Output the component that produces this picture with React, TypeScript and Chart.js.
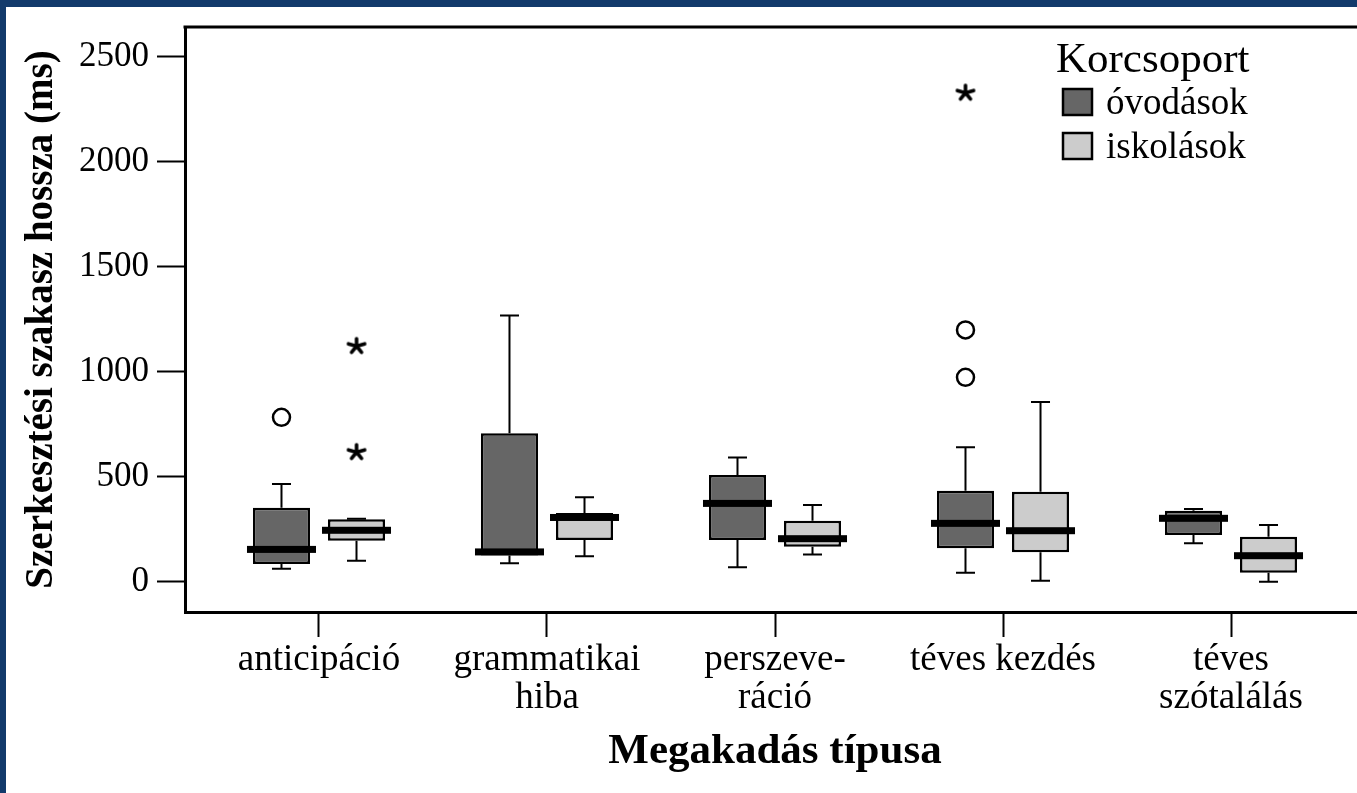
import React, { useEffect, useRef } from 'react';
import { Chart, registerables } from 'chart.js';

Chart.register(...registerables);

// ---------- data ----------
const categories: string[][] = [
  ['anticipáció'],
  ['grammatikai', 'hiba'],
  ['perszeve-', 'ráció'],
  ['téves kezdés'],
  ['téves', 'szótalálás'],
];
const groupNames = ['óvodások', 'iskolások'];
const legendTitle = 'Korcsoport';
const xTitle = 'Megakadás típusa';
const yTitle = 'Szerkesztési szakasz hossza (ms)';
const yTickValues = [0, 500, 1000, 1500, 2000, 2500];

const ovodWhiskerLow = [62, 88, 69, 43, 183];
const ovodQ1 = [84, 125, 199, 159, 222];
const ovodMedian = [154, 142, 373, 278, 302];
const ovodQ3 = [352, 707, 508, 433, 338];
const ovodWhiskerHigh = [465, 1268, 592, 640, 346];
const ovodOutliers: [number, number][] = [[0, 783], [3, 1199], [3, 973]];
const ovodExtremes: [number, number][] = [[3, 2330]];

const iskWhiskerLow = [100, 122, 130, 5, 0];
const iskQ1 = [195, 199, 167, 140, 43];
const iskMedian = [245, 306, 205, 243, 124];
const iskQ3 = [297, 327, 290, 429, 214];
const iskWhiskerHigh = [300, 402, 365, 856, 270];
const iskOutliers: [number, number][] = [];
const iskExtremes: [number, number][] = [[0, 1124], [0, 619]];

// ---------- style / layout ----------
const BLUE = 'rgb(18,58,107)';
const DARK = '#666666';
const LIGHT = '#cccccc';
const SERIF = "'Liberation Serif', 'Times New Roman', serif";
const CATEGORY_PCT = 0.658;
const BAR_PCT = 0.76;
const GROUP_OFFSET = CATEGORY_PCT / 4;
const X_MIN = -0.5877;
const X_MAX = 4.5877;
const Y_MIN = -144;
const Y_MAX = 2641;
const CAP = 19;

const groups = [
  { low: ovodWhiskerLow, q1: ovodQ1, med: ovodMedian, q3: ovodQ3, high: ovodWhiskerHigh, color: DARK },
  { low: iskWhiskerLow, q1: iskQ1, med: iskMedian, q3: iskQ3, high: iskWhiskerHigh, color: LIGHT },
];

function makeStar(): HTMLCanvasElement {
  const c = document.createElement('canvas');
  c.width = 22;
  c.height = 20;
  const ctx = c.getContext('2d')!;
  ctx.strokeStyle = '#000';
  ctx.lineWidth = 3.6;
  ctx.lineCap = 'round';
  const cx = 11, cy = 10.5;
  for (let k = 0; k < 5; k++) {
    const a = -Math.PI / 2 + (k * 2 * Math.PI) / 5;
    ctx.beginPath();
    ctx.moveTo(cx, cy);
    ctx.lineTo(cx + Math.cos(a) * 8.5, cy + Math.sin(a) * 7.5);
    ctx.stroke();
  }
  return c;
}

const boxPlugin = {
  id: 'boxWhiskers',
  afterDatasetsDraw(chart: any) {
    const ctx = chart.ctx;
    const y = chart.scales.y;
    groups.forEach((g, d) => {
      const meta = chart.getDatasetMeta(d);
      meta.data.forEach((el: any, i: number) => {
        const { x, width } = el.getProps(['x', 'width'], true);
        const pHi = y.getPixelForValue(g.high[i]);
        const pQ3 = y.getPixelForValue(g.q3[i]);
        const pQ1 = y.getPixelForValue(g.q1[i]);
        const pLo = y.getPixelForValue(g.low[i]);
        const pMed = y.getPixelForValue(g.med[i]);
        ctx.save();
        ctx.strokeStyle = '#000';
        ctx.lineWidth = 2;
        ctx.beginPath();
        ctx.moveTo(x, pQ3);
        ctx.lineTo(x, pHi);
        ctx.moveTo(x - CAP / 2, pHi);
        ctx.lineTo(x + CAP / 2, pHi);
        ctx.moveTo(x, pQ1);
        ctx.lineTo(x, pLo);
        ctx.moveTo(x - CAP / 2, pLo);
        ctx.lineTo(x + CAP / 2, pLo);
        ctx.stroke();
        ctx.fillStyle = '#000';
        ctx.fillRect(x - width / 2 - 6, pMed - 3.5, width + 12, 7);
        ctx.restore();
      });
    });
  },
};

const framePlugin = {
  id: 'frameTop',
  afterDraw(chart: any) {
    const { left, right, top } = chart.chartArea;
    const ctx = chart.ctx;
    ctx.save();
    ctx.strokeStyle = '#000';
    ctx.lineWidth = 3;
    ctx.beginPath();
    ctx.moveTo(left - 1.5, top);
    ctx.lineTo(right, top);
    ctx.stroke();
    ctx.restore();
  },
};

const legendPlugin = {
  id: 'customLegend',
  afterDraw(chart: any) {
    const ctx = chart.ctx;
    ctx.save();
    ctx.fillStyle = '#000';
    ctx.textBaseline = 'alphabetic';
    ctx.textAlign = 'left';
    ctx.font = `43px ${SERIF}`;
    ctx.fillText(legendTitle, 1050, 65);
    ctx.font = `37px ${SERIF}`;
    groupNames.forEach((name, i) => {
      const top = 82 + i * 44;
      ctx.fillStyle = groups[i].color;
      ctx.fillRect(1057, top, 29, 26);
      ctx.strokeStyle = '#000';
      ctx.lineWidth = 2.5;
      ctx.strokeRect(1057, top, 29, 26);
      ctx.fillStyle = '#000';
      ctx.fillText(name, 1100, top + 24.5);
    });
    ctx.restore();
  },
};

export default function App() {
  const ref = useRef<HTMLCanvasElement>(null);
  useEffect(() => {
    const canvas = ref.current!;
    const star = makeStar();
    const outlierStyle = {
      type: 'scatter' as const,
      pointStyle: 'circle',
      pointRadius: 8.5,
      pointBorderWidth: 2.5,
      pointBorderColor: '#000',
      pointBackgroundColor: 'rgba(255,255,255,0)',
    };
    const extremeStyle = {
      type: 'scatter' as const,
      pointStyle: star,
      pointRadius: 10,
      pointBorderWidth: 0,
    };
    const offsets = [-GROUP_OFFSET, GROUP_OFFSET];
    const chart = new Chart(canvas, {
      type: 'bar',
      data: {
        datasets: [
          {
            label: groupNames[0],
            data: categories.map((_, i) => ({ x: i, y: [ovodQ1[i], ovodQ3[i]] })) as any,
            backgroundColor: DARK,
            borderColor: '#000',
            borderWidth: 2.5,
            borderSkipped: false,
            categoryPercentage: CATEGORY_PCT,
            barPercentage: BAR_PCT,
          },
          {
            label: groupNames[1],
            data: categories.map((_, i) => ({ x: i, y: [iskQ1[i], iskQ3[i]] })) as any,
            backgroundColor: LIGHT,
            borderColor: '#000',
            borderWidth: 2.5,
            borderSkipped: false,
            categoryPercentage: CATEGORY_PCT,
            barPercentage: BAR_PCT,
          },
          { ...outlierStyle, data: ovodOutliers.map(([c, v]) => ({ x: c + offsets[0], y: v })) } as any,
          { ...outlierStyle, data: iskOutliers.map(([c, v]) => ({ x: c + offsets[1], y: v })) } as any,
          { ...extremeStyle, data: ovodExtremes.map(([c, v]) => ({ x: c + offsets[0], y: v })) } as any,
          { ...extremeStyle, data: iskExtremes.map(([c, v]) => ({ x: c + offsets[1], y: v })) } as any,
        ],
      },
      options: {
        animation: false,
        responsive: false,
        maintainAspectRatio: false,
        devicePixelRatio: 1,
        layout: { padding: { top: 20, right: 21, left: 0, bottom: 0 } },
        plugins: { legend: { display: false }, tooltip: { enabled: false } },
        scales: {
          x: {
            type: 'linear',
            min: X_MIN,
            max: X_MAX,
            offset: false,
            grid: {
              offset: false,
              drawOnChartArea: false,
              drawTicks: true,
              tickLength: 25,
              tickWidth: 2,
              tickColor: '#000',
            },
            border: { display: true, color: '#000', width: 3 },
            afterBuildTicks: (scale: any) => {
              scale.ticks = categories.map((_, i) => ({ value: i }));
            },
            afterFit: (scale: any) => {
              scale.height = 181;
              scale.paddingLeft = 0;
              scale.paddingRight = 0;
            },
            ticks: {
              autoSkip: false,
              maxRotation: 0,
              minRotation: 0,
              padding: 4,
              color: '#000',
              font: { family: SERIF, size: 37, lineHeight: 1.03 },
              callback: (value: any) => categories[Math.round(Number(value))] ?? '',
            },
            title: {
              display: true,
              text: xTitle,
              color: '#000',
              font: { family: SERIF, size: 43, weight: 'bold' },
              padding: { top: 0, bottom: 15 },
            },
          } as any,
          y: {
            type: 'linear',
            min: Y_MIN,
            max: Y_MAX,
            grid: {
              drawOnChartArea: false,
              drawTicks: true,
              tickLength: 28,
              tickWidth: 2,
              tickColor: '#000',
            },
            border: { display: true, color: '#000', width: 3 },
            afterBuildTicks: (scale: any) => {
              scale.ticks = yTickValues.map((v) => ({ value: v }));
            },
            afterFit: (scale: any) => {
              scale.width = 179;
              scale.paddingTop = 0;
              scale.paddingBottom = 0;
            },
            ticks: {
              padding: 8,
              color: '#000',
              font: { family: SERIF, size: 35 },
              callback: (value: any) => String(value),
            },
            title: {
              display: true,
              text: yTitle,
              color: '#000',
              font: { family: SERIF, size: 39, weight: 'bold' },
              padding: { top: 13, bottom: 0 },
            },
          } as any,
        },
      },
      plugins: [boxPlugin, framePlugin, legendPlugin],
    } as any);
    return () => chart.destroy();
  }, []);

  return (
    <div
      style={{
        position: 'fixed',
        left: 0,
        top: 0,
        width: 1357,
        height: 793,
        background: BLUE,
        overflow: 'hidden',
      }}
    >
      <div
        style={{
          position: 'absolute',
          left: 6,
          top: 7,
          width: 1400,
          height: 800,
          background: '#ffffff',
        }}
      >
        <canvas
          ref={ref}
          width={1380}
          height={786}
          style={{ display: 'block', width: '1380px', height: '786px' }}
        />
      </div>
    </div>
  );
}
